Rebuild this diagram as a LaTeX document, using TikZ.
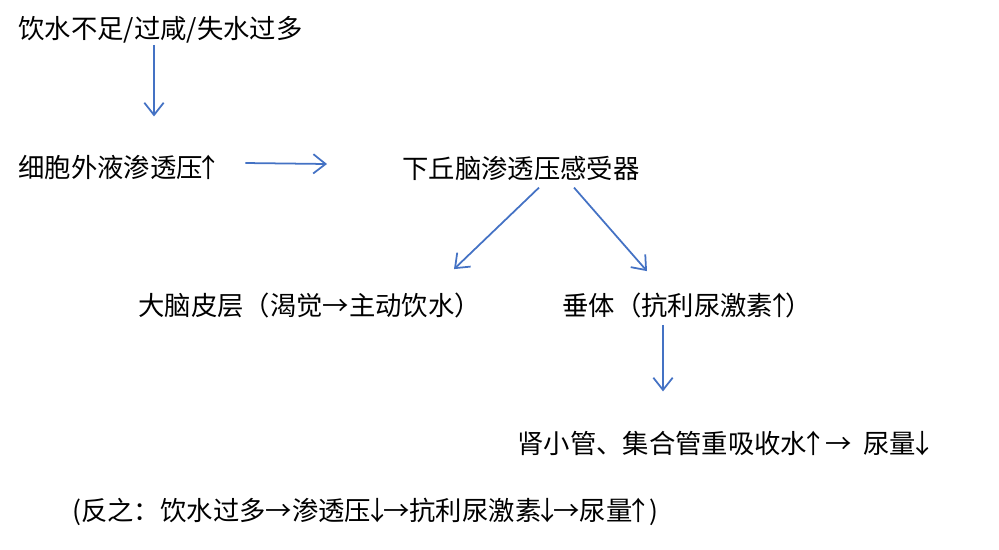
\documentclass[tikz,border=0pt]{standalone}
\usepackage{fontspec}
\setmainfont{Noto Sans CJK SC}
\usetikzlibrary{arrows.meta,calc}
\definecolor{flowblue}{RGB}{68,114,196}
% 窄的上下箭头
\newcommand\upar{\kern-.27em↑\kern-.27em}
\newcommand\downar{\kern-.27em↓\kern-.27em}

\begin{document}
\begin{tikzpicture}[x=0.02cm, y=-0.02cm,
  every node/.style={anchor=west, inner sep=0pt, font=\fontsize{15}{18}\selectfont},
  flow/.style={draw=flowblue, line width=1pt, -{Straight Barb[length=7pt, width=11pt]}}]
\useasboundingbox (0,0) rectangle (999,549);

% 起因
\node (cause) at (18,30) {饮水不足/过咸/失水过多};
\node (ecf) at (18,167) {细胞外液渗透压\upar};
\node (hypo) at (402,168) {下丘脑渗透压感受器};

% 两条通路
\node (cortex) at (138,305) {大脑皮层（渴觉→主动饮水）};
\node (pit) at (562,305) {垂体（抗利尿激素\upar）};
\node (kidney) at (517,443) {肾小管、集合管重吸收水\upar\ →\ \ 尿量\downar};

% 反之
\node (contra) at (72,512) {(反之：饮水过多→渗透压\downar→抗利尿激素\downar→尿量\upar\,)};

% 箭头
\draw[flow] ($(cause.south west)+(136,1)$) -- ($(ecf.north west)+(136,-38)$);
\draw[flow] ($(ecf.east)+(30,-4)$) -- ($(hypo.west)+(-75,-4)$);
\draw[flow] ($(hypo.south west)+(137,7)$) -- ($(cortex.north west)+(316,-23)$);
\draw[flow] ($(hypo.south west)+(172,7)$) -- ($(pit.north west)+(85,-21)$);
\draw[flow] ($(pit.south west)+(101,7)$) -- ($(kidney.north west)+(146,-39)$);
\end{tikzpicture}
\end{document}
